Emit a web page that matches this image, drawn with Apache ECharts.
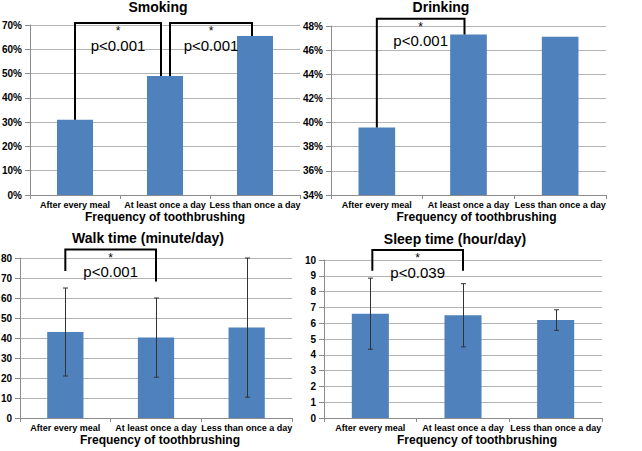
<!DOCTYPE html>
<html>
<head>
<meta charset="utf-8">
<script src="https://cdn.jsdelivr.net/npm/echarts@6/dist/echarts.min.js"></script>
<style>html,body{margin:0;padding:0;background:#fff}#c{width:642px;height:451px}</style>
</head>
<body>
<div id="c"></div>
<script>
// ---- data ----
const categories = ['After every meal', 'At least once a day', 'Less than once a day'];
const smokingPct = [31, 49, 65.5];
const drinkingPct = [39.6, 47.3, 47.1];
const walkMean = [43, 40.2, 45.2];
const walkSD = [22, 19.8, 34.8];
const sleepMean = [6.6, 6.5, 6.2];
const sleepSD = [2.25, 2.0, 0.65];
// significance brackets: [fromCat, toCat, topValue, leftLegEnd, rightLegEnd]
const smokingSig = [[0, 1, 70.8, 31, 49], [1, 2, 70.8, 49, 65.5]];
const smokingSigLabels = ['p<0.001', 'p<0.001'];
const drinkingSig = [[0, 1, 48.6, 39.6, 47.3]];
const drinkingSigLabels = ['p<0.001'];
const walkSig = [[0, 1, 84.2, 73.5, 68.3]];
const walkSigLabels = ['p<0.001'];
const sleepSig = [[0, 1, 10.63, 9.32, 9.32]];
const sleepSigLabels = ['p<0.039'];

// ---- styles ----
const FONT = 'Liberation Sans, Arial, sans-serif';
const BAR = '#4F81BD';
const GRID_LINE = '#b3b3b3';
const AXIS_LINE = '#8c8c8c';

function xAxis(gridIndex, namePad) {
  return {
    type: 'category', gridIndex, data: categories,
    axisLine: {lineStyle: {color: AXIS_LINE}},
    axisTick: {show: true, length: 4, lineStyle: {color: AXIS_LINE}},
    axisLabel: {interval: 0, margin: 5, color: '#000', fontWeight: 'bold', fontSize: 9, fontFamily: FONT},
    name: 'Frequency of toothbrushing', nameLocation: 'middle', nameGap: 16,
    nameTextStyle: {color: '#000', fontWeight: 'bold', fontSize: 12, fontFamily: FONT, padding: namePad}
  };
}
function yAxis(gridIndex, min, max, interval, fmt) {
  return {
    type: 'value', gridIndex, min, max, interval,
    axisLine: {show: true, lineStyle: {color: AXIS_LINE}},
    axisTick: {show: true, length: 5, lineStyle: {color: AXIS_LINE}},
    splitLine: {show: true, lineStyle: {color: GRID_LINE}},
    axisLabel: {margin: 8, color: '#000', fontWeight: 'bold', fontSize: 10, fontFamily: FONT, formatter: fmt}
  };
}
function barSeries(i, data) {
  return {type: 'bar', xAxisIndex: i, yAxisIndex: i, data, barWidth: '40%',
    itemStyle: {color: BAR}, silent: true};
}
function errSeries(i, mean, sd) {
  const data = mean.map((m, k) => [k, m - sd[k], m + sd[k]]);
  return {
    type: 'custom', xAxisIndex: i, yAxisIndex: i, clip: false, silent: true, z: 5,
    encode: {x: 0, y: [1, 2]}, data,
    renderItem(params, api) {
      const lo = api.coord([api.value(0), api.value(1)]);
      const hi = api.coord([api.value(0), api.value(2)]);
      const x = Math.round(lo[0]) + 0.5, w = 2.5;
      const st = {stroke: '#333', lineWidth: 1};
      return {type: 'group', children: [
        {type: 'line', shape: {x1: x, y1: hi[1], x2: x, y2: lo[1]}, style: st},
        {type: 'line', shape: {x1: x - w, y1: hi[1], x2: x + w, y2: hi[1]}, style: st},
        {type: 'line', shape: {x1: x - w, y1: lo[1], x2: x + w, y2: lo[1]}, style: st}
      ]};
    }
  };
}
function sigSeries(i, data, labels, shifts) {
  return {
    type: 'custom', xAxisIndex: i, yAxisIndex: i, clip: false, silent: true, z: 6,
    encode: {x: 0, y: 2}, data,
    renderItem(params, api) {
      const a = api.value(0), b = api.value(1);
      const tl = api.coord([a, api.value(2)]);
      const tr = api.coord([b, api.value(2)]);
      const bl = api.coord([a, api.value(3)]);
      const br = api.coord([b, api.value(4)]);
      const s = shifts[params.dataIndex];
      const xl = tl[0] + s[0], xr = tr[0] + s[1], y = tl[1];
      const mid = (xl + xr) / 2;
      return {type: 'group', children: [
        {type: 'polyline', shape: {points: [[xl, bl[1]], [xl, y], [xr, y], [xr, br[1]]]},
          style: {stroke: '#000', lineWidth: 2, fill: null}},
        {type: 'text', style: {text: '*', x: mid, y: y + 8, align: 'center', verticalAlign: 'middle',
          fontSize: 12, fontFamily: FONT, fill: '#000'}},
        {type: 'text', style: {text: labels[params.dataIndex], x: mid, y: y + 22, align: 'center',
          verticalAlign: 'middle', fontSize: 15, fontFamily: FONT, fill: '#000'}}
      ]};
    }
  };
}
function title(text, x, y) {
  return {text, left: x, top: y, textAlign: 'center', padding: 0,
    textStyle: {color: '#000', fontWeight: 'bold', fontSize: 14, fontFamily: FONT}};
}

const chart = echarts.init(document.getElementById('c'), null, {renderer: 'svg'});
chart.setOption({
  animation: false,
  backgroundColor: '#fff',
  title: [
    title('Smoking', 158, 0),
    title('Drinking', 441, 0),
    title('Walk time (minute/day)', 148, 231),
    title('Sleep time (hour/day)', 455, 232)
  ],
  grid: [
    {left: 30, top: 25, width: 270, height: 170, outerBoundsMode: 'none'},
    {left: 331, top: 26, width: 275, height: 169, outerBoundsMode: 'none'},
    {left: 20, top: 258, width: 272, height: 160, outerBoundsMode: 'none'},
    {left: 324, top: 260, width: 278, height: 158, outerBoundsMode: 'none'}
  ],
  xAxis: [xAxis(0, [0, 0, 0, 0]), xAxis(1, [0, 0, 0, 16]), xAxis(2, [0, 0, 0, 8]), xAxis(3, [0, 0, 0, 28])],
  yAxis: [
    yAxis(0, 0, 70, 10, '{value}%'),
    yAxis(1, 34, 48, 2, '{value}%'),
    yAxis(2, 0, 80, 10, '{value}'),
    yAxis(3, 0, 10, 1, '{value}')
  ],
  series: [
    barSeries(0, smokingPct),
    barSeries(1, drinkingPct),
    barSeries(2, walkMean),
    barSeries(3, sleepMean),
    errSeries(2, walkMean, walkSD),
    errSeries(3, sleepMean, sleepSD),
    sigSeries(0, smokingSig, smokingSigLabels, [[0, -4], [5, -3]]),
    sigSeries(1, drinkingSig, drinkingSigLabels, [[0, -4]]),
    sigSeries(2, walkSig, walkSigLabels, [[0, 0]]),
    sigSeries(3, sleepSig, sleepSigLabels, [[2, 0]])
  ]
});
</script>
</body>
</html>
